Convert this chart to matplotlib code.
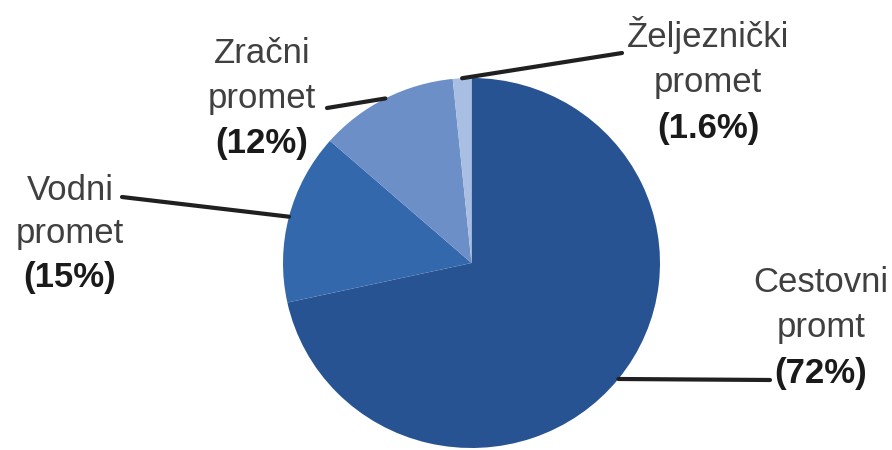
import numpy as np
import matplotlib
matplotlib.use("Agg")
import matplotlib.pyplot as plt

# Data
categories = ["Cestovni\npromt", "Vodni\npromet", "Zračni\npromet", "Željeznički\npromet"]
shares = [72, 15, 12, 1.6]
pct_labels = ["(72%)", "(15%)", "(12%)", "(1.6%)"]
colors = ["#285393", "#3468AC", "#6B8FC6", "#A8BEE2"]

W, H = 892, 450
fig = plt.figure(figsize=(W / 100, H / 100), dpi=100)
fig.patch.set_facecolor("white")

# pie axes placed in pixel terms
px_l, px_r, px_t, px_b = 283, 660, 78, 448
ax = fig.add_axes([px_l / W, (H - px_b) / H, (px_r - px_l) / W, (px_b - px_t) / H])
wedges, _ = ax.pie(shares, colors=colors, startangle=90, counterclock=False,
                   radius=1.0, wedgeprops=dict(linewidth=0))
ax.set_xlim(-1, 1)
ax.set_ylim(-1, 1)
ax.set_aspect("auto")
ax.axis("off")

# label layout: (center x px, first baseline y px, line spacing px), leader text end (px)
layout = [
    dict(x=821, y0=292, dy=45.5, lead=(770, 380)),
    dict(x=70, y0=200, dy=43.5, lead=(122, 197)),
    dict(x=262, y0=63, dy=45, lead=(327, 108)),
    dict(x=708, y0=47, dy=45.5, lead=(622, 53)),
]

fs = 25
family = ["Liberation Sans", "DejaVu Sans"]


def fig_xy(px, py):
    return px / W, 1 - py / H


for w, cat, pct, lay in zip(wedges, categories, pct_labels, layout):
    lines = cat.split("\n")
    for i, ln in enumerate(lines):
        fig.text(*fig_xy(lay["x"], lay["y0"] + i * lay["dy"]), ln,
                 ha="center", va="baseline", fontsize=fs, color="#404040",
                 family=family)
    fig.text(*fig_xy(lay["x"], lay["y0"] + len(lines) * lay["dy"]), pct,
             ha="center", va="baseline", fontsize=fs, color="#1a1a1a",
             fontweight="bold", family=family)
    mid = np.deg2rad((w.theta1 + w.theta2) / 2)
    ax.annotate("", xy=(np.cos(mid), np.sin(mid)), xycoords="data",
                xytext=fig_xy(*lay["lead"]), textcoords="figure fraction",
                arrowprops=dict(arrowstyle="-", color="#202020", lw=3,
                                shrinkA=0, shrinkB=0))

fig.savefig("out.png", dpi=100, facecolor="white")
